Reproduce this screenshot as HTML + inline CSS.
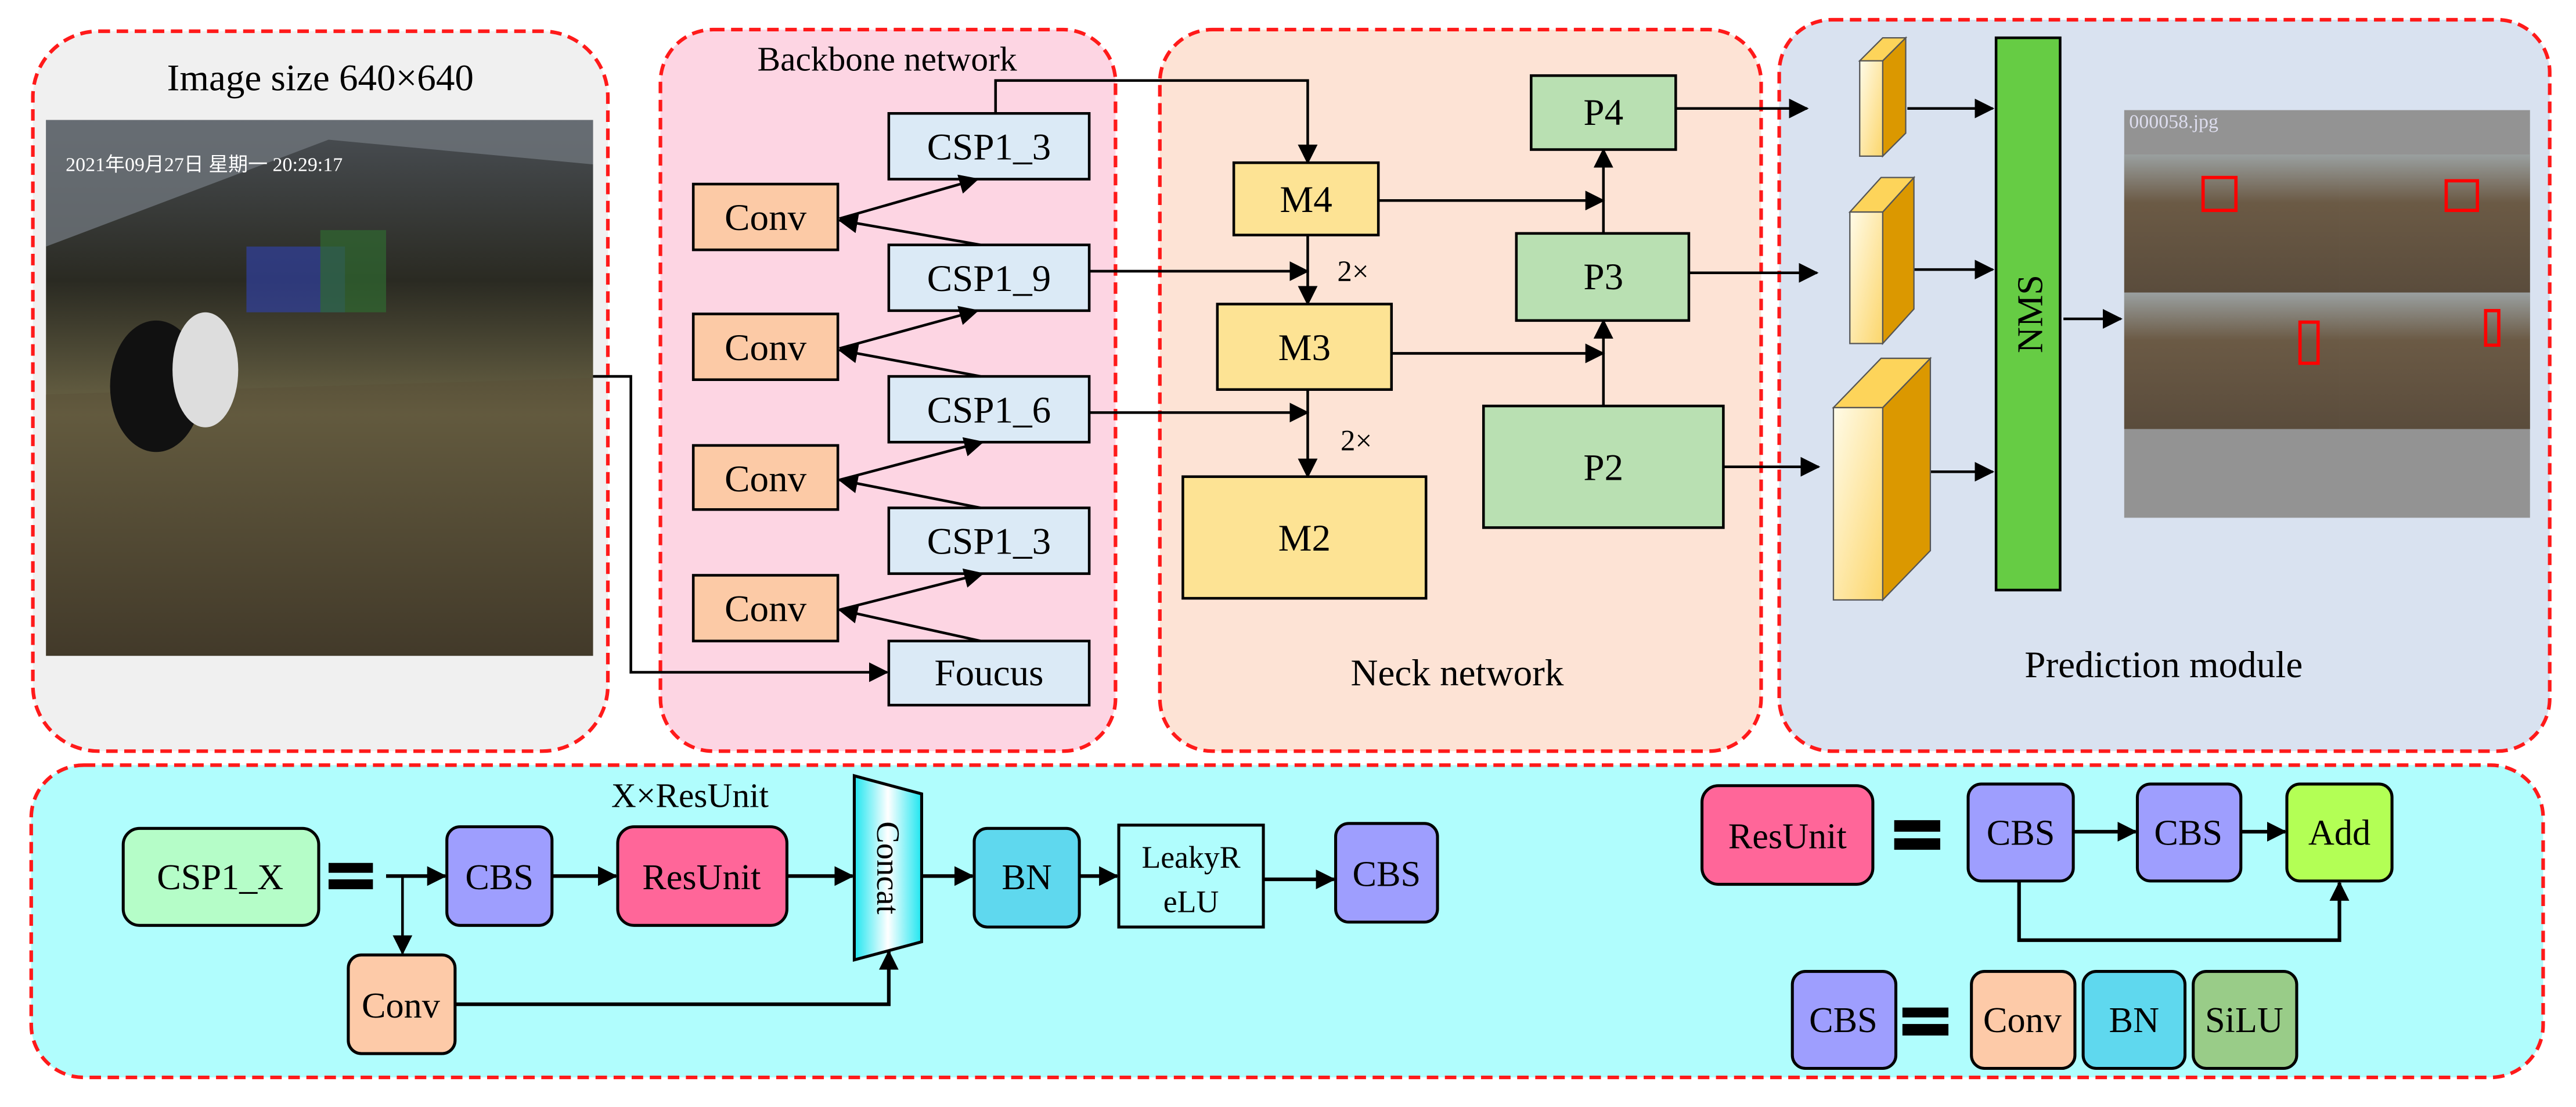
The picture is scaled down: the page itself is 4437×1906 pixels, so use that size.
<!DOCTYPE html>
<html><head><meta charset="utf-8"><style>
html,body{margin:0;padding:0;background:#fff}
svg{display:block}
text{font-family:"Liberation Serif",serif;fill:#000}
</style></head><body>
<svg width="4437" height="1906" viewBox="0 0 1568 673.5" preserveAspectRatio="none" xmlns="http://www.w3.org/2000/svg">
<defs>
<marker id="a" markerUnits="userSpaceOnUse" markerWidth="12" markerHeight="12" viewBox="0 0 12 12" refX="11" refY="6" orient="auto"><path d="M0,0 L12,6 L0,12 z" fill="#000"/></marker>
<linearGradient id="cf" x1="0" y1="0" x2="1" y2="1"><stop offset="0" stop-color="#fffbe8"/><stop offset="1" stop-color="#fcd66b"/></linearGradient>
<linearGradient id="cc" x1="0" y1="0" x2="1" y2="0"><stop offset="0" stop-color="#1fe6f0"/><stop offset="0.5" stop-color="#ffffff"/><stop offset="1" stop-color="#1fe6f0"/></linearGradient>
<linearGradient id="ph" x1="0" y1="0" x2="0" y2="1"><stop offset="0" stop-color="#4a4f55"/><stop offset="0.3" stop-color="#2a2a22"/><stop offset="0.55" stop-color="#6b6445"/><stop offset="1" stop-color="#2b241c"/></linearGradient>
<linearGradient id="q" x1="0" y1="0" x2="0" y2="1"><stop offset="0" stop-color="#9aa0a0"/><stop offset="0.35" stop-color="#6b5a45"/><stop offset="1" stop-color="#5a4c3c"/></linearGradient>
</defs>
<g fill="none" stroke="#ff1a1a" stroke-width="2.2" stroke-dasharray="7 4">
<rect x="20" y="19" width="350" height="438" rx="40" fill="#f0f0f0"/>
<rect x="402" y="18" width="277" height="439" rx="32" fill="#fdd5e3"/>
<rect x="706" y="18" width="366" height="439" rx="32" fill="#fde3d5"/>
<rect x="1083" y="12" width="469" height="445" rx="32" fill="#d9e2f0"/>
<rect x="19" y="465.5" width="1529" height="190" rx="32" fill="#b0fdfd"/>
</g>
<text x="195" y="55" font-size="23" text-anchor="middle">Image size 640×640</text>
<rect x="28" y="73" width="333" height="326" fill="url(#ph)"/>
<polygon points="28,73 361,73 361,100 200,85 28,150" fill="#6e747a" opacity="0.8"/>
<rect x="150" y="150" width="60" height="40" fill="#3040a0" opacity="0.7"/>
<rect x="195" y="140" width="40" height="50" fill="#2f6a30" opacity="0.7"/>
<polygon points="28,240 361,230 361,399 28,399" fill="#5a5038" opacity="0.5"/>
<ellipse cx="95" cy="235" rx="28" ry="40" fill="#111"/>
<ellipse cx="125" cy="225" rx="20" ry="35" fill="#ddd"/>
<text x="40" y="104" font-size="12" style="fill:#fff" font-family="Liberation Mono,'Noto Sans CJK SC',monospace">2021年09月27日 星期一 20:29:17</text>
<text x="540" y="43" font-size="21" text-anchor="middle">Backbone network</text>
<g stroke="#000" stroke-width="1.6">
<rect x="541" y="69" width="122" height="40" fill="#dbeaf6"/>
<rect x="541" y="149" width="122" height="40" fill="#dbeaf6"/>
<rect x="541" y="229" width="122" height="40" fill="#dbeaf6"/>
<rect x="541" y="309" width="122" height="40" fill="#dbeaf6"/>
<rect x="541" y="390" width="122" height="39" fill="#dbeaf6"/>
<rect x="422" y="112" width="88" height="40" fill="#fccaa6"/>
<rect x="422" y="191" width="88" height="40" fill="#fccaa6"/>
<rect x="422" y="271" width="88" height="39" fill="#fccaa6"/>
<rect x="422" y="350" width="88" height="40" fill="#fccaa6"/>
</g>
<g font-size="23" text-anchor="middle">
<text x="602" y="97">CSP1_3</text><text x="602" y="177">CSP1_9</text><text x="602" y="257">CSP1_6</text><text x="602" y="337">CSP1_3</text><text x="602" y="417">Foucus</text>
<text x="466" y="140">Conv</text><text x="466" y="219">Conv</text><text x="466" y="299">Conv</text><text x="466" y="378">Conv</text>
</g>
<g stroke="#000" stroke-width="1.6" fill="none" marker-end="url(#a)">
<line x1="511" y1="133" x2="595" y2="109"/><line x1="597" y1="149" x2="511" y2="134"/>
<line x1="511" y1="212" x2="595" y2="189"/><line x1="597" y1="229" x2="511" y2="213"/>
<line x1="511" y1="292" x2="598" y2="269"/><line x1="597" y1="309" x2="511" y2="292"/>
<line x1="511" y1="371" x2="598" y2="349"/><line x1="597" y1="390" x2="511" y2="371"/>
<polyline points="361,229 384,229 384,409 540,409"/>
<polyline points="606,69 606,49 796,49 796,99"/>
<polyline points="663,165 796,165"/>
<polyline points="663,251 796,251"/>
<polyline points="796,143 796,185"/>
<polyline points="796,237 796,290"/>
<polyline points="839,122 976,122"/>
<polyline points="847,215 976,215"/>
<polyline points="976,247 976,195"/>
<polyline points="976,142 976,91"/>
<polyline points="1020,66 1100,66"/>
<polyline points="1028,166 1106,166"/>
<polyline points="1049,284 1107,284"/>
<polyline points="1161,66 1213,66"/>
<polyline points="1165,164 1213,164"/>
<polyline points="1170,287 1213,287"/>
<polyline points="1256,194 1291,194"/>
</g>
<g stroke="#000" stroke-width="1.6">
<rect x="751" y="99" width="88" height="44" fill="#fde394"/>
<rect x="741" y="185" width="106" height="52" fill="#fde394"/>
<rect x="720" y="290" width="148" height="74" fill="#fde394"/>
<rect x="932" y="46" width="88" height="45" fill="#b9e0b2"/>
<rect x="923" y="142" width="105" height="53" fill="#b9e0b2"/>
<rect x="903" y="247" width="146" height="74" fill="#b9e0b2"/>
</g>
<g font-size="23" text-anchor="middle">
<text x="795" y="129">M4</text><text x="794" y="219">M3</text><text x="794" y="335">M2</text>
<text x="976" y="76">P4</text><text x="976" y="176">P3</text><text x="976" y="292">P2</text>
</g>
<text x="814" y="171" font-size="18">2×</text><text x="816" y="274" font-size="18">2×</text>
<text x="887" y="417" font-size="23" text-anchor="middle">Neck network</text>
<text x="1317" y="412" font-size="23" text-anchor="middle">Prediction module</text>
<g stroke="#555" stroke-width="0.8">
<polygon points="1146,37 1160,23 1160,81 1146,95" fill="#db9800"/>
<polygon points="1132,37 1146,37 1160,23 1146,23" fill="#fdd45a"/>
<rect x="1132" y="37" width="14" height="58" fill="url(#cf)"/>
<polygon points="1146,129 1165,108 1165,188 1146,209" fill="#db9800"/>
<polygon points="1126,129 1146,129 1165,108 1145,108" fill="#fdd45a"/>
<rect x="1126" y="129" width="20" height="80" fill="url(#cf)"/>
<polygon points="1146,248 1175,218 1175,335 1146,365" fill="#db9800"/>
<polygon points="1116,248 1146,248 1175,218 1145,218" fill="#fdd45a"/>
<rect x="1116" y="248" width="30" height="117" fill="url(#cf)"/>
</g>
<rect x="1215" y="23" width="39" height="336" fill="#66cc44" stroke="#000" stroke-width="1.6"/>
<text transform="translate(1243,191) rotate(-90)" font-size="22" text-anchor="middle">NMS</text>
<rect x="1293" y="67" width="247" height="248" fill="#939393"/>
<text x="1296" y="78" font-size="12" style="fill:#dde" font-family="Liberation Sans,sans-serif">000058.jpg</text>
<rect x="1293" y="94" width="131" height="84" fill="url(#q)"/>
<rect x="1424" y="94" width="116" height="84" fill="url(#q)"/>
<rect x="1293" y="178" width="131" height="83" fill="url(#q)"/>
<rect x="1424" y="178" width="116" height="83" fill="url(#q)"/>
<g fill="none" stroke="#f00" stroke-width="2"><rect x="1341" y="108" width="20" height="20"/><rect x="1489" y="110" width="19" height="18"/><rect x="1400" y="196" width="11" height="25"/><rect x="1513" y="189" width="8" height="21"/></g>
<text x="420" y="491" font-size="21" text-anchor="middle">X×ResUnit</text>
<g stroke="#000" stroke-width="1.8">
<rect x="75" y="504" width="119" height="59" rx="10" fill="#b5fdc8"/>
<rect x="272" y="503" width="64" height="60" rx="8" fill="#9e9efe"/>
<rect x="376" y="503" width="103" height="60" rx="10" fill="#ff6699"/>
<polygon points="520,472 561,483 561,573 520,584" fill="url(#cc)"/>
<rect x="593" y="504" width="64" height="60" rx="8" fill="#5fd8ee"/>
<rect x="681" y="502" width="88" height="62" fill="#b0fdfd"/>
<rect x="813" y="501" width="62" height="60" rx="8" fill="#9e9efe"/>
<rect x="212" y="581" width="65" height="60" rx="8" fill="#fdcaa8"/>
<rect x="1036" y="478" width="104" height="60" rx="10" fill="#ff6699"/>
<rect x="1198" y="477" width="64" height="59" rx="8" fill="#9e9efe"/>
<rect x="1301" y="477" width="63" height="59" rx="8" fill="#9e9efe"/>
<rect x="1392" y="477" width="64" height="59" rx="8" fill="#b3ff55"/>
<rect x="1091" y="591" width="63" height="59" rx="8" fill="#9e9efe"/>
<rect x="1200" y="591" width="63" height="59" rx="8" fill="#fdcaa8"/>
<rect x="1268" y="591" width="62" height="59" rx="8" fill="#5fd8ee"/>
<rect x="1335" y="591" width="63" height="59" rx="8" fill="#99cc88"/>
</g>
<g fill="#000"><rect x="200" y="525" width="27" height="6"/><rect x="200" y="535" width="27" height="6"/>
<rect x="1153" y="499" width="28" height="7"/><rect x="1153" y="510" width="28" height="7"/>
<rect x="1158" y="613" width="28" height="6"/><rect x="1158" y="623" width="28" height="7"/></g>
<g stroke="#000" stroke-width="2.2" fill="none" marker-end="url(#a)">
<line x1="235" y1="533" x2="271" y2="533"/>
<polyline points="245,533 245,580" stroke-width="1.6"/>
<line x1="336" y1="533" x2="375" y2="533"/>
<line x1="479" y1="533" x2="519" y2="533"/>
<line x1="561" y1="533" x2="592" y2="533"/>
<line x1="657" y1="533" x2="680" y2="533"/>
<line x1="769" y1="535" x2="812" y2="535"/>
<polyline points="277,611 541,611 541,579"/>
<line x1="1262" y1="506" x2="1300" y2="506"/>
<line x1="1364" y1="506" x2="1391" y2="506"/>
<polyline points="1229,536 1229,572 1424,572 1424,537"/>
</g>
<g font-size="22" text-anchor="middle">
<text x="134" y="541">CSP1_X</text><text x="304" y="541">CBS</text><text x="427" y="541">ResUnit</text>
<text x="625" y="541">BN</text><text x="725" y="528" font-size="19">LeakyR</text><text x="725" y="555" font-size="19">eLU</text>
<text x="844" y="539">CBS</text><text x="244" y="619">Conv</text>
<text x="1088" y="516">ResUnit</text><text x="1230" y="514">CBS</text><text x="1332" y="514">CBS</text><text x="1424" y="514">Add</text>
<text x="1122" y="628">CBS</text><text x="1231" y="628">Conv</text><text x="1299" y="628">BN</text><text x="1366" y="628">SiLU</text>
</g>
<text transform="translate(534,528) rotate(90)" font-size="20" text-anchor="middle" font-family="Liberation Sans,sans-serif" style="fill:#000">Concat</text>
</svg>
</body></html>
